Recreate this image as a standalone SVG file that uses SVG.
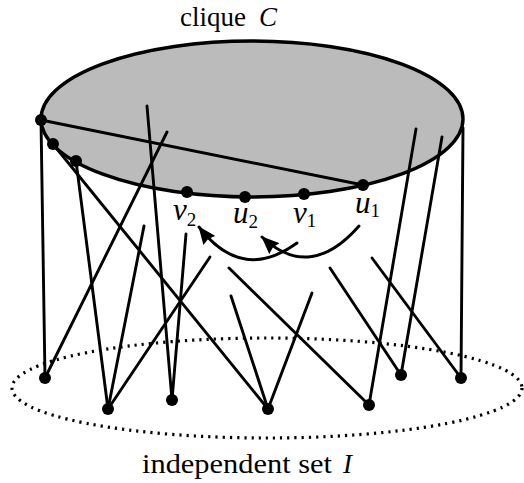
<svg xmlns="http://www.w3.org/2000/svg" width="524" height="483" viewBox="0 0 524 483">
<defs>
<style>
.e{stroke:#000;stroke-width:2.9;stroke-linecap:round;fill:none}
.d{fill:#000}
.t{font-family:"Liberation Serif","DejaVu Serif",serif;font-size:27px;fill:#000}
.it{font-style:italic}
.lbl{font-family:"Liberation Serif","DejaVu Serif",serif;font-style:italic;font-size:31px;fill:#000}
.sub{font-style:normal;font-size:19px}
</style>
<marker id="ah" markerUnits="userSpaceOnUse" markerWidth="18" markerHeight="15" viewBox="0 0 18 15" refX="17" refY="7.5" orient="auto">
<path d="M0,0 L18,7.5 L0,15 L2,7.5 z" fill="#000"/>
</marker>
</defs>
<rect width="524" height="483" fill="#fff"/>
<g id="cliqueC">
<ellipse cx="252" cy="119" rx="211" ry="78" fill="#bbbbbb" stroke="none"/>
</g>
<g id="independentSetI">
<ellipse cx="267" cy="388" rx="255" ry="50" fill="none" stroke="#000" stroke-width="3.2" stroke-dasharray="2.2 5"/>
</g>
<g id="connectors">
<line class="e" x1="41" y1="120" x2="363" y2="185"/>
<line class="e" x1="41" y1="120" x2="45" y2="378"/>
<line class="e" x1="463" y1="128" x2="461" y2="378"/>
<line class="e" x1="167" y1="132" x2="45" y2="378"/>
<line class="e" x1="147" y1="106" x2="172" y2="400"/>
<line class="e" x1="76" y1="161" x2="108" y2="409"/>
<line class="e" x1="53" y1="144" x2="268" y2="409"/>
<line class="e" x1="144" y1="226" x2="108" y2="409"/>
<line class="e" x1="210" y1="257" x2="108" y2="409"/>
<line class="e" x1="186" y1="234" x2="172" y2="400"/>
<line class="e" x1="229" y1="268" x2="369" y2="405"/>
<line class="e" x1="231" y1="296" x2="268" y2="409"/>
<line class="e" x1="312" y1="293" x2="268" y2="409"/>
<line class="e" x1="330" y1="268" x2="401" y2="375"/>
<line class="e" x1="372" y1="258" x2="461" y2="378"/>
<line class="e" x1="416" y1="129" x2="369" y2="405"/>
<line class="e" x1="442" y1="137" x2="401" y2="375"/>
<path class="e" d="M359,226 Q310,282 262,237" marker-end="url(#ah)"/>
<path class="e" d="M297,243 Q242,283 199,227" marker-end="url(#ah)"/>
</g>
<ellipse cx="252" cy="119" rx="211" ry="78" fill="none" stroke="#000" stroke-width="3.4"/>
<g id="cliqueNodes">
<circle class="d" cx="41" cy="120" r="6"/>
<circle class="d" cx="53" cy="144" r="6"/>
<circle class="d" cx="76" cy="161" r="6"/>
<g id="v2"><circle class="d" cx="187" cy="192" r="6"/><text class="lbl" x="173" y="220">v<tspan class="sub" dy="6">2</tspan></text></g>
<g id="u2"><circle class="d" cx="245" cy="197" r="6"/><text class="lbl" x="233" y="223">u<tspan class="sub" dy="5">2</tspan></text></g>
<g id="v1"><circle class="d" cx="304" cy="194" r="6"/><text class="lbl" x="293" y="223">v<tspan class="sub" dy="4">1</tspan></text></g>
<g id="u1"><circle class="d" cx="363" cy="185" r="6"/><text class="lbl" x="355" y="213">u<tspan class="sub" dy="4">1</tspan></text></g>
</g>
<g id="setNodes">
<circle class="d" cx="45" cy="378" r="6"/>
<circle class="d" cx="108" cy="409" r="6"/>
<circle class="d" cx="172" cy="400" r="6"/>
<circle class="d" cx="268" cy="409" r="6"/>
<circle class="d" cx="369" cy="405" r="6"/>
<circle class="d" cx="401" cy="375" r="6"/>
<circle class="d" cx="461" cy="378" r="6"/>
</g>
<g id="labels">
<text class="t" x="180" y="26">clique <tspan class="it" x="259">C</tspan></text>
<text class="t" x="142" y="473" textLength="190" lengthAdjust="spacingAndGlyphs">independent set</text>
<text class="t it" x="343" y="473">I</text>
</g>
</svg>
